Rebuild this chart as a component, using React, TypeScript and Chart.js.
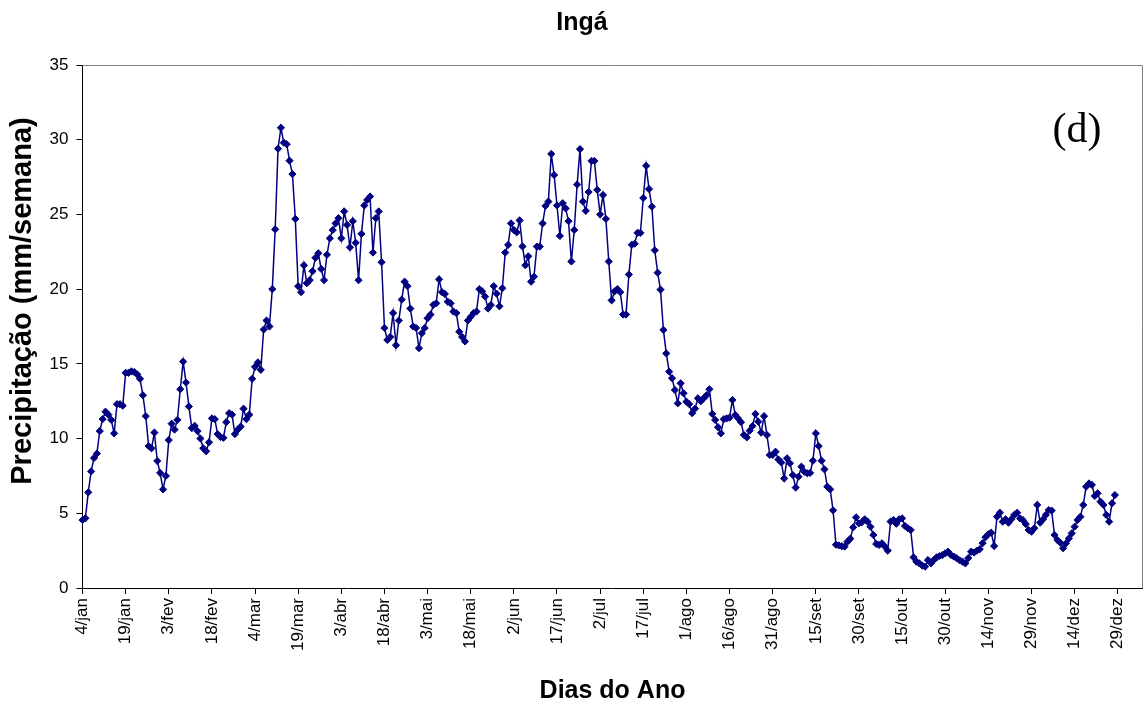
import React, { useEffect, useRef } from "react";
import { Chart, registerables } from "chart.js";

Chart.register(...registerables);

// Weekly precipitation (mm/semana), one value per day, starting 4/jan (leap year)
const jan = [4.55, 4.67, 6.4, 7.8, 8.7, 9.0, 10.5, 11.3, 11.8, 11.6, 11.25, 10.35, 12.3, 12.3, 12.2, 14.4, 14.4, 14.5, 14.45, 14.3, 14.0, 12.9, 11.5, 9.5, 9.35, 10.4, 8.5, 7.7];
const fev = [6.6, 7.5, 9.9, 11.0, 10.6, 11.25, 13.3, 15.15, 13.75, 12.15, 10.7, 10.85, 10.5, 10.0, 9.35, 9.15, 9.75, 11.35, 11.3, 10.3, 10.1, 10.05, 11.1, 11.7, 11.6, 10.3, 10.6, 10.8, 12.0];
const mar = [11.3, 11.6, 14.0, 14.8, 15.1, 14.6, 17.3, 17.9, 17.5, 20.0, 24.0, 29.4, 30.8, 29.8, 29.7, 28.6, 27.7, 24.7, 20.2, 19.8, 21.6, 20.4, 20.6, 21.2, 22.1, 22.4, 21.35, 20.6, 22.3, 23.4, 23.95];
const abr = [24.4, 24.75, 23.4, 25.2, 24.3, 22.8, 24.55, 23.1, 20.6, 23.7, 25.6, 25.97, 26.2, 22.45, 24.75, 25.2, 21.8, 17.4, 16.6, 16.8, 18.4, 16.25, 17.9, 19.3, 20.5, 20.2, 18.7, 17.5, 17.4, 16.05];
const mai = [17.05, 17.4, 18.05, 18.3, 18.95, 19.05, 20.66, 19.8, 19.68, 19.16, 19.05, 18.5, 18.4, 17.15, 16.8, 16.5, 17.9, 18.15, 18.4, 18.5, 20.0, 19.85, 19.5, 18.7, 18.94, 20.2, 19.7, 18.85, 20.06, 22.45, 22.96];
const jun = [24.4, 23.96, 23.8, 24.6, 22.86, 21.6, 22.2, 20.5, 20.84, 22.85, 22.85, 24.4, 25.57, 25.86, 29.05, 27.64, 25.6, 23.56, 25.75, 25.4, 24.55, 21.85, 23.96, 27.0, 29.37, 25.86, 25.24, 26.5, 28.58, 28.58];
const jul = [26.64, 25.0, 26.3, 24.7, 21.85, 19.25, 19.85, 20.0, 19.8, 18.3, 18.3, 20.98, 22.97, 23.04, 23.77, 23.77, 26.1, 28.25, 26.7, 25.52, 22.6, 21.1, 19.97, 17.27, 15.7, 14.48, 14.04, 13.25, 12.36, 13.7, 13.03];
const ago = [12.47, 12.3, 11.7, 12.0, 12.7, 12.5, 12.7, 12.9, 13.3, 11.65, 11.25, 10.76, 10.35, 11.3, 11.35, 11.4, 12.58, 11.58, 11.35, 11.1, 10.24, 10.08, 10.53, 10.84, 11.65, 11.13, 10.4, 11.5, 10.24, 8.9, 8.9];
const set = [9.12, 8.6, 8.4, 7.33, 8.68, 8.35, 7.56, 6.72, 7.45, 8.12, 7.78, 7.68, 7.7, 8.52, 10.35, 9.5, 8.52, 7.94, 6.78, 6.6, 5.2, 2.9, 2.85, 2.8, 2.77, 3.1, 3.3, 4.06, 4.73, 4.33];
const out = [4.4, 4.6, 4.44, 4.1, 3.55, 2.95, 2.88, 2.99, 2.77, 2.5, 4.45, 4.55, 4.3, 4.6, 4.66, 4.15, 4.0, 3.88, 2.05, 1.76, 1.65, 1.5, 1.43, 1.87, 1.65, 1.87, 2.05, 2.14, 2.2, 2.32, 2.43];
const nov = [2.21, 2.1, 1.99, 1.85, 1.76, 1.65, 2.0, 2.43, 2.37, 2.5, 2.6, 3.0, 3.4, 3.6, 3.7, 2.81, 4.77, 5.04, 4.44, 4.6, 4.37, 4.6, 4.89, 5.04, 4.66, 4.55, 4.28, 3.88, 3.77, 4.0];
const dez = [5.56, 4.37, 4.6, 4.89, 5.22, 5.18, 3.55, 3.21, 3.03, 2.66, 2.99, 3.32, 3.66, 4.1, 4.55, 4.77, 5.56, 6.78, 7.0, 6.9, 6.16, 6.34, 5.78, 5.56, 4.89, 4.44, 5.67, 6.22];

const tickLabels = [
  "4/jan", "19/jan", "3/fev", "18/fev", "4/mar", "19/mar", "3/abr", "18/abr",
  "3/mai", "18/mai", "2/jun", "17/jun", "2/jul", "17/jul", "1/ago", "16/ago",
  "31/ago", "15/set", "30/set", "15/out", "30/out", "14/nov", "29/nov", "14/dez", "29/dez",
];
const tickStep = 15;
const yTicks = [0, 5, 10, 15, 20, 25, 30, 35];

const title = "Ingá";
const panelLabel = "(d)";
const xTitle = "Dias do Ano";
const yTitle = "Precipitação (mm/semana)";

const SANS = "Arial, 'Liberation Sans', sans-serif";
const SERIF = "'Times New Roman', 'Liberation Serif', serif";

export default function App() {
  const ref = useRef<HTMLCanvasElement>(null);

  useEffect(() => {
    document.body.style.margin = "0";
    const values = [jan, fev, mar, abr, mai, jun, jul, ago, set, out, nov, dez].flat();
    const points = values.map((v, i) => ({ x: i, y: v }));

    const extras = {
      id: "extras",
      afterDraw(chart: any) {
        const { ctx, chartArea } = chart;
        ctx.save();
        ctx.strokeStyle = "#808080";
        ctx.lineWidth = 1;
        ctx.beginPath();
        ctx.moveTo(chartArea.left, Math.round(chartArea.top) + 0.5);
        ctx.lineTo(Math.round(chartArea.right) - 0.5, Math.round(chartArea.top) + 0.5);
        ctx.lineTo(Math.round(chartArea.right) - 0.5, chartArea.bottom);
        ctx.stroke();

        ctx.fillStyle = "#000";
        ctx.textAlign = "center";
        ctx.textBaseline = "middle";
        ctx.font = `bold 25px ${SANS}`;
        ctx.fillText(title, 582, 23);

        ctx.font = `42px ${SERIF}`;
        ctx.fillText(panelLabel, 1077, 131);

        ctx.translate(23, 301);
        ctx.rotate(-Math.PI / 2);
        ctx.font = `bold 29px ${SANS}`;
        ctx.fillText(yTitle, 0, 0);
        ctx.restore();
      },
    };

    const chart = new Chart(ref.current!, {
      type: "line",
      data: {
        datasets: [
          {
            data: points,
            borderColor: "#000080",
            backgroundColor: "#000080",
            borderWidth: 1.5,
            pointStyle: "rectRot",
            pointRadius: 3.6,
            pointBorderWidth: 1,
            pointBorderColor: "#000080",
            pointBackgroundColor: "#000080",
            tension: 0,
            clip: false as any,
          },
        ],
      },
      options: {
        responsive: false,
        animation: false,
        events: [],
        layout: { autoPadding: false, padding: { top: 65, right: 0.5, left: 0, bottom: 0 } },
        plugins: {
          legend: { display: false },
          tooltip: { enabled: false },
          title: { display: false },
        },
        scales: {
          x: {
            type: "linear",
            min: 0,
            max: 368.6,
            afterBuildTicks: (s: any) => {
              s.ticks = tickLabels.map((_, i) => ({ value: i * tickStep }));
            },
            afterFit: (s: any) => {
              s.height = 122;
              s.paddingLeft = 0;
              s.paddingRight = 0;
            },
            ticks: {
              autoSkip: false,
              maxRotation: 90,
              minRotation: 90,
              padding: 4,
              color: "#000",
              font: { size: 17, family: SANS },
              callback: (_v: any, i: number) => tickLabels[i],
            },
            grid: {
              display: true,
              drawOnChartArea: false,
              drawTicks: true,
              tickLength: 6,
              color: "#000",
            },
            border: { display: true, color: "#000", width: 1 },
            title: {
              display: true,
              text: xTitle,
              color: "#000",
              font: { size: 25, weight: "bold", family: SANS },
              padding: { top: 0, bottom: 4 },
            },
          },
          y: {
            type: "linear",
            min: 0,
            max: 35,
            afterBuildTicks: (s: any) => {
              s.ticks = yTicks.map((v) => ({ value: v }));
            },
            afterFit: (s: any) => {
              s.width = 82.5;
              s.paddingTop = 0;
              s.paddingBottom = 0;
            },
            ticks: {
              padding: 8,
              color: "#000",
              font: { size: 17, family: SANS },
            },
            grid: {
              display: true,
              drawOnChartArea: false,
              drawTicks: true,
              tickLength: 6,
              color: "#000",
            },
            border: { display: true, color: "#000", width: 1 },
            title: { display: false },
          },
        },
      },
      plugins: [extras],
    });

    return () => chart.destroy();
  }, []);

  return (
    <div style={{ width: 1143, height: 710, background: "#fff" }}>
      <canvas ref={ref} width={1143} height={710} style={{ display: "block" }} />
    </div>
  );
}
